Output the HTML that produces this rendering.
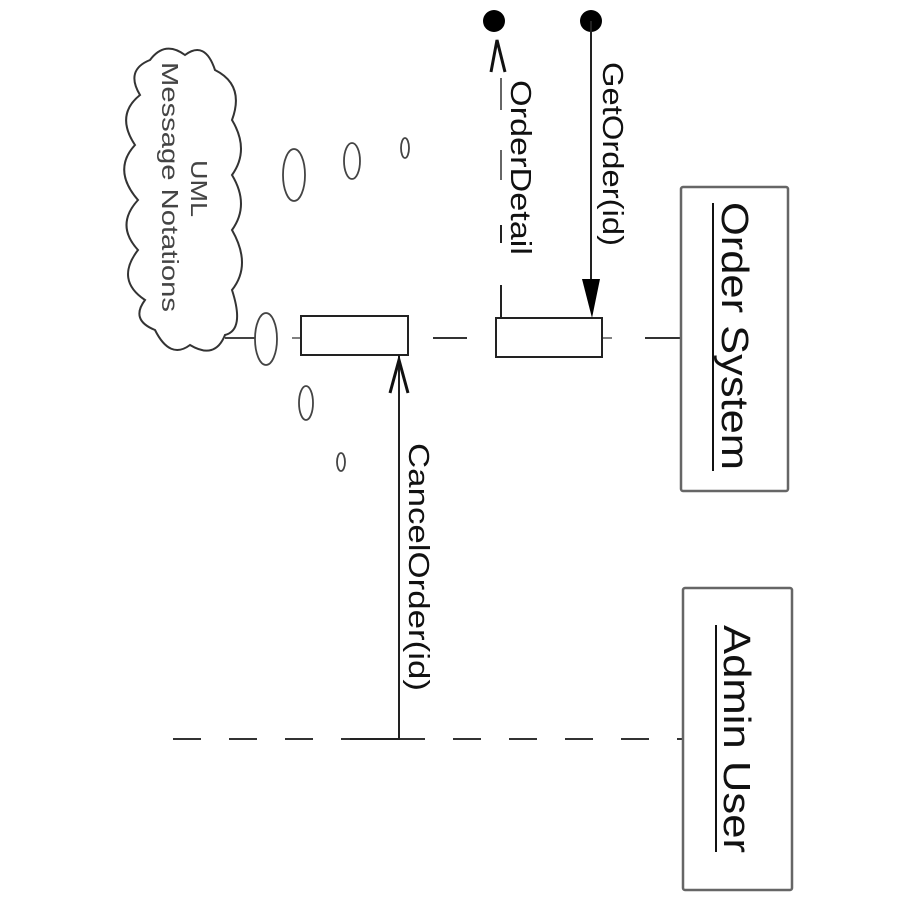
<!DOCTYPE html>
<html><head><style>html,body{margin:0;padding:0;background:#fff}</style></head><body>
<svg width="900" height="900" viewBox="0 0 900 900" xmlns="http://www.w3.org/2000/svg" font-family="Liberation Sans, Arial, sans-serif">
<rect width="900" height="900" fill="#fff"/>
<line x1="173" y1="739" x2="683" y2="739" stroke="#333" stroke-width="2" stroke-dasharray="28,28"/>
<line x1="292" y1="338" x2="300" y2="338" stroke="#555" stroke-width="1.5"/>
<line x1="433" y1="338" x2="467" y2="338" stroke="#333" stroke-width="2"/>
<line x1="603" y1="338" x2="612" y2="338" stroke="#555" stroke-width="1.5"/>
<line x1="645" y1="338" x2="681" y2="338" stroke="#333" stroke-width="2"/>
<rect x="681" y="187" width="107" height="304" rx="2" fill="#fff" stroke="#666" stroke-width="2.5"/>
<rect x="683" y="588" width="109" height="302" rx="2" fill="#fff" stroke="#666" stroke-width="2.5"/>
<text transform="translate(722,202) rotate(90)" font-size="38" textLength="268" lengthAdjust="spacingAndGlyphs" fill="#111">Order System</text>
<line x1="713" y1="203" x2="713" y2="471" stroke="#111" stroke-width="2"/>
<text transform="translate(724,625) rotate(90)" font-size="38" textLength="228" lengthAdjust="spacingAndGlyphs" fill="#111">Admin User</text>
<line x1="716" y1="625" x2="716" y2="852" stroke="#111" stroke-width="2"/>
<rect x="301" y="316" width="107" height="39" fill="#fff" stroke="#222" stroke-width="2"/>
<rect x="496" y="318" width="106" height="39" fill="#fff" stroke="#222" stroke-width="2"/>
<polyline points="350,739 399,739 399,356" fill="none" stroke="#222" stroke-width="2"/>
<polyline points="390,393 399,360 408,393" fill="none" stroke="#111" stroke-width="3"/>
<text transform="translate(409,443) rotate(90)" font-size="29" textLength="248" lengthAdjust="spacingAndGlyphs" fill="#111">CancelOrder(id)</text>
<circle cx="591" cy="21" r="11" fill="#000"/>
<line x1="591" y1="21" x2="591" y2="285" stroke="#222" stroke-width="2"/>
<polygon points="582,279 600,279 592,318" fill="#000"/>
<text transform="translate(603,62) rotate(90)" font-size="29" textLength="184" lengthAdjust="spacingAndGlyphs" fill="#111">GetOrder(id)</text>
<circle cx="494" cy="21" r="11" fill="#000"/>
<line x1="501" y1="318" x2="501" y2="285" stroke="#222" stroke-width="2"/>
<line x1="501" y1="243" x2="501" y2="225" stroke="#222" stroke-width="2"/>
<line x1="501" y1="180" x2="501" y2="150" stroke="#333" stroke-width="1.5"/>
<line x1="501" y1="110" x2="501" y2="78" stroke="#333" stroke-width="1.5"/>
<polyline points="491,72 497,40 505,72" fill="none" stroke="#111" stroke-width="3"/>
<text transform="translate(511,80) rotate(90)" font-size="29" textLength="175" lengthAdjust="spacingAndGlyphs" fill="#111">OrderDetail</text>
<path d="M150,60 Q165,40 185,55 Q205,40 215,70 Q245,85 232,120 Q250,150 232,175 Q250,205 232,230 Q252,265 232,290 Q245,330 225,335 Q215,360 190,345 Q170,360 155,330 Q130,320 145,300 Q115,280 138,250 Q115,225 138,200 Q112,170 135,145 Q115,115 140,95 Q125,70 150,60 Z" fill="#fff" stroke="#333" stroke-width="2"/>
<text transform="translate(191,160) rotate(90)" font-size="23" textLength="57" lengthAdjust="spacingAndGlyphs" fill="#444">UML</text>
<text transform="translate(162,62) rotate(90)" font-size="23" textLength="250" lengthAdjust="spacingAndGlyphs" fill="#444">Message Notations</text>
<line x1="225" y1="338" x2="255" y2="338" stroke="#444" stroke-width="2"/>
<g fill="none" stroke="#444" stroke-width="1.8">
<ellipse cx="266" cy="339" rx="11" ry="26"/>
<ellipse cx="306" cy="403" rx="7" ry="17"/>
<ellipse cx="341" cy="462" rx="4" ry="9"/>
<ellipse cx="294" cy="175" rx="11" ry="26"/>
<ellipse cx="352" cy="161" rx="8" ry="18"/>
<ellipse cx="405" cy="148" rx="4" ry="10"/>
</g>
</svg>
</body></html>
